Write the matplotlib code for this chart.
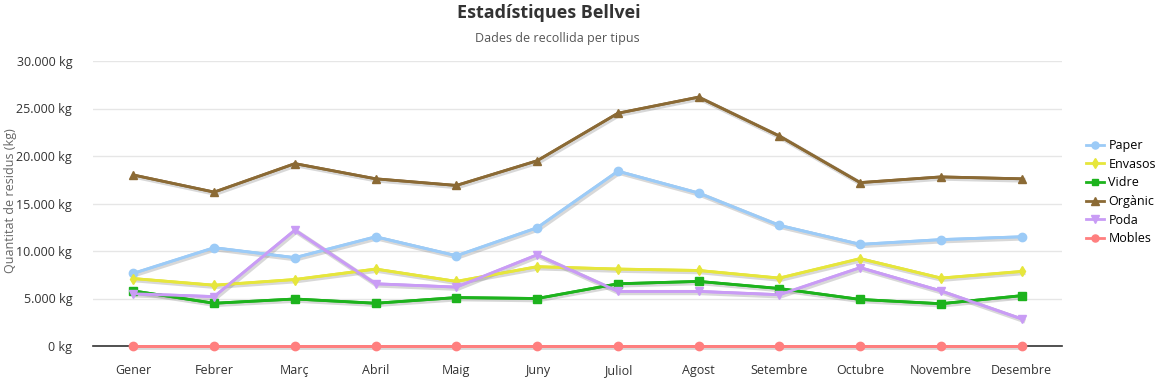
import numpy as np
from matplotlib import pyplot as plt
from matplotlib import patheffects as pe
from matplotlib.ticker import FuncFormatter

plt.rcParams["font.family"] = ["Open Sans", "DejaVu Sans"]

mesos = ["Gener", "Febrer", "Març", "Abril", "Maig", "Juny", "Juliol",
         "Agost", "Setembre", "Octubre", "Novembre", "Desembre"]

paper = [7650, 10350, 9300, 11500, 9500, 12450, 18400, 16100, 12700, 10700, 11200, 11500]
envasos = [7100, 6400, 7000, 8100, 6800, 8350, 8100, 7950, 7150, 9200, 7150, 7850]
vidre = [5800, 4500, 4950, 4500, 5100, 5000, 6550, 6800, 6050, 4900, 4450, 5300]
organic = [18000, 16200, 19200, 17600, 16900, 19500, 24500, 26200, 22100, 17200, 17800, 17600]
poda = [5500, 5200, 12200, 6550, 6200, 9600, 5750, 5750, 5400, 8250, 5800, 2850]
mobles = [0, 0, 0, 0, 0, 0, 0, 0, 0, 0, 0, 0]

series = [
    ("Paper", paper, "#9ccbf7", "o", 6),
    ("Envasos", envasos, "#e6e63c", "d", 5.5),
    ("Vidre", vidre, "#1db31d", "s", 5.5),
    ("Orgànic", organic, "#8b6a35", "^", 6),
    ("Poda", poda, "#c99cf5", "v", 6),
    ("Mobles", mobles, "#ff7f7f", "o", 6),
]

fig = plt.figure(figsize=(11.57, 3.80), dpi=100)
ax = fig.add_axes([93 / 1157, 1 - 346 / 380, (1062 - 93) / 1157, (346 - 61) / 380])

x = np.arange(len(mesos))
shadow = [pe.SimpleLineShadow(offset=(1, -1), shadow_color="gray", alpha=0.3, linewidth=3.5),
          pe.Normal()]
for name, vals, col, mk, ms in series:
    # line with soft shadow, markers on top without shadow
    ax.plot(x, vals, color=col, linewidth=2, path_effects=shadow, zorder=3, clip_on=False)
    ax.plot(x, vals, color=col, marker=mk, markersize=ms, linewidth=2,
            label=name, zorder=4, clip_on=False)

ax.set_xlim(-0.5, 11.5)
ax.set_ylim(0, 30000)
ax.set_yticks(range(0, 30001, 5000))
ax.yaxis.set_major_formatter(FuncFormatter(lambda v, p: f"{int(v):,} kg".replace(",", ".")))
ax.set_xticks(x)
ax.set_xticklabels(mesos)
ax.grid(axis="y", color="#e6e6e6", linewidth=1)
ax.set_axisbelow(True)
for s in ["top", "right", "left"]:
    ax.spines[s].set_visible(False)
ax.spines["bottom"].set_color("#333333")
ax.spines["bottom"].set_linewidth(1.2)
ax.spines["bottom"].set_zorder(2)
ax.tick_params(axis="both", length=0, labelsize=9, colors="#333333")
ax.tick_params(axis="y", pad=15)
ax.tick_params(axis="x", pad=13)
ax.set_ylabel("Quantitat de residus (kg)", fontsize=9, color="#666666")
ax.yaxis.set_label_coords(-0.078, 0.51)

fig.text(0.474, 0.965, "Estadístiques Bellvei", ha="center", va="center",
         fontsize=13, fontweight="bold", color="#333333")
fig.text(0.482, 0.898, "Dades de recollida per tipus", ha="center", va="center",
         fontsize=9, color="#555555")

ax.legend(loc="center left", bbox_to_anchor=(1.02, 0.54), frameon=False,
          fontsize=9, handlelength=1.4, labelspacing=0.45, handletextpad=0.35,
          markerscale=0.85, borderaxespad=0)

fig.savefig("out.png", dpi=100)
